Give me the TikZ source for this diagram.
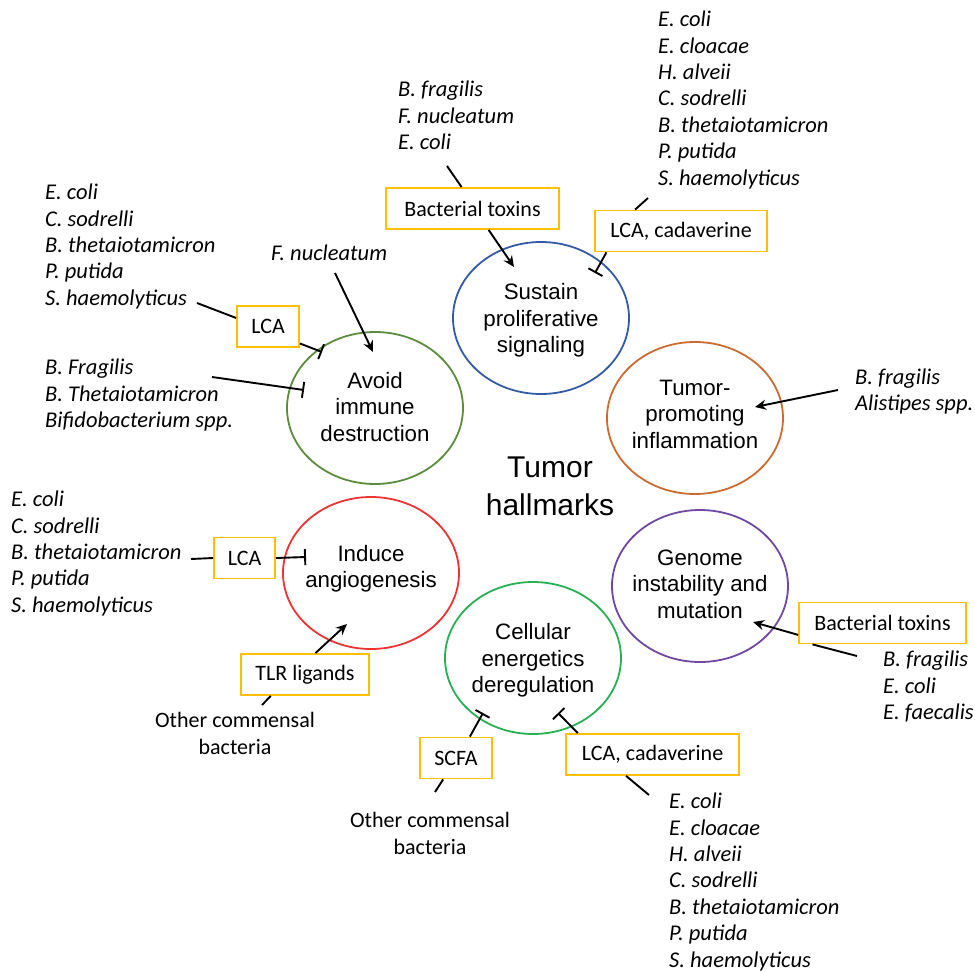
\documentclass[tikz,border=0pt]{standalone}
\usepackage{fontspec}
\setmainfont{Carlito}
\newfontfamily\arialfont{Liberation Sans}
\usetikzlibrary{shapes.geometric,arrows.meta}

\definecolor{boxgold}{RGB}{255,192,0}
\definecolor{sustainblue}{RGB}{52,92,166}
\definecolor{avoidgreen}{RGB}{92,140,62}
\definecolor{inflamorange}{RGB}{202,108,50}
\definecolor{angiored}{RGB}{236,52,52}
\definecolor{genomepurple}{RGB}{112,72,162}
\definecolor{energygreen}{RGB}{40,176,84}

\tikzset{
  hallmark/.style={ellipse, draw=#1, line width=1.8pt, minimum width=176pt, minimum height=152pt, inner sep=0pt},
  hallmarktext/.style={align=center, font=\arialfont\fontsize{22.3}{26.5}\selectfont},
  agent/.style={draw=boxgold, line width=1.8pt, minimum height=41pt, inner xsep=6pt, font=\fontsize{22}{25}\selectfont},
  species/.style={anchor=north west, align=left, inner sep=0pt, font=\itshape\fontsize{22.5}{26.4}\selectfont},
  commensal/.style={align=center, inner sep=0pt, font=\fontsize{22}{27}\selectfont},
  link/.style={line width=1.9pt},
  act/.style={link, -{Stealth[length=11pt,width=10pt]}},
  inh/.style={link, -{Bar[width=16pt]}},
}

\begin{document}
\begin{tikzpicture}[x=1pt,y=-1pt]
    \useasboundingbox (0,0) rectangle (975,972);

    % the six hallmark circles
    \node[hallmark=sustainblue] (sps) at (541,318) {};
    \node[hallmark=avoidgreen] (aid) at (375,408) {};
    \node[hallmark=inflamorange] (tpi) at (695,418) {};
    \node[hallmark=angiored] (ia) at (371,573) {};
    \node[hallmark=genomepurple] (gim) at (700,586) {};
    \node[hallmark=energygreen] (ced) at (533,658) {};

    \node[hallmarktext] (sps-t) at (541,320.5) {Sustain\\proliferative\\signaling};
    \node[hallmarktext] (aid-t) at (375,407) {Avoid\\immune\\destruction};
    \node[hallmarktext] (tpi-t) at (695,414) {Tumor-\\promoting\\inflammation};
    \node[hallmarktext] (ia-t) at (371,568.5) {Induce\\angiogenesis};
    \node[hallmarktext] (gim-t) at (700,584) {Genome\\instability and\\mutation};
    \node[hallmarktext] (ced-t) at (533,660.5) {Cellular\\energetics\\deregulation};

    \node[align=center, font=\arialfont\fontsize{30}{38}\selectfont] (th) at (550,486) {Tumor\\hallmarks};

    % bacterial products
    \node[agent, minimum width=173pt] (btA) at (472.5,208.5) {Bacterial toxins};
    \node[agent, minimum width=172pt] (lcA) at (681,231) {LCA, cadaverine};
    \node[agent, minimum width=62pt] (laA) at (268,326.5) {LCA};
    \node[agent, minimum width=61pt] (laB) at (244.5,558) {LCA};
    \node[agent, minimum width=128pt] (tlr) at (305,674.5) {TLR ligands};
    \node[agent, minimum width=72pt] (scfa) at (456,758) {SCFA};
    \node[agent, minimum width=173pt] (lcB) at (652.5,754.5) {LCA, cadaverine};
    \node[agent, minimum width=167pt] (btB) at (882.5,623) {Bacterial toxins};

    % bacteria
    \node[species] (tm-list) at (398,80.8) {B. fragilis\\F. nucleatum\\E. coli};
    \node[species] (tr-list) at (658,10.8) {E. coli\\E. cloacae\\H. alveii\\C. sodrelli\\B. thetaiotamicron\\P. putida\\S. haemolyticus};
    \node[species] (tl-list) at (45,183.8) {E. coli\\C. sodrelli\\B. thetaiotamicron\\P. putida\\S. haemolyticus};
    \node[species, anchor=west] (fn) at (271,253) {F. nucleatum};
    \node[species] (bl-list) at (45,358.8) {B. Fragilis\\B. Thetaiotamicron\\Bifidobacterium spp.};
    \node[species] (inf-list) at (855,368.2) {B. fragilis\\Alistipes spp.};
    \node[species] (ml-list) at (11,490.8) {E. coli\\C. sodrelli\\B. thetaiotamicron\\P. putida\\S. haemolyticus};
    \node[species] (gr-list) at (883,650.8) {B. fragilis\\E. coli\\E. faecalis};
    \node[species] (br-list) at (669,792.8) {E. coli\\E. cloacae\\H. alveii\\C. sodrelli\\B. thetaiotamicron\\P. putida\\S. haemolyticus};
    \node[commensal] (oc1) at (235,733.5) {Other commensal\\bacteria};
    \node[commensal] (oc2) at (430,833.5) {Other commensal\\bacteria};

    % free ends of the connectors
    \coordinate (tm-end) at (447,166);
    \coordinate (tr-end) at (648,198);
    \coordinate (tl-end) at (197,303);
    \coordinate (fn-end) at (335,273);
    \coordinate (bl-end) at (212,377);
    \coordinate (inf-end) at (838,390);
    \coordinate (ml-end) at (191,559);
    \coordinate (oc1-end) at (262,705);
    \coordinate (oc2-end) at (435,792);
    \coordinate (br-end) at (649,795);
    \coordinate (gr-end) at (857,656);

    \coordinate (sps-act) at (514,267);
    \coordinate (sps-inh) at (595,273);
    \coordinate (aid-act) at (373,352);
    \coordinate (aid-inh1) at (322,352);
    \coordinate (aid-inh2) at (304,390);
    \coordinate (tpi-act) at (755,407);
    \coordinate (ia-inh) at (306,557);
    \coordinate (ia-act) at (347,624);
    \coordinate (ced-inh1) at (483,713);
    \coordinate (ced-inh2) at (558,713);
    \coordinate (gim-act) at (753,622);

    % connectors
    \draw[link] (tm-end) -- (btA.117);
    \draw[act] (btA.307) -- (sps-act);
    \draw[link] (tr-end) -- (lcA.155);
    \draw[inh] (lcA.196) -- (sps-inh);

    \draw[link] (tl-end) -- (laA.165);
    \draw[inh] (laA.332) -- (aid-inh1);
    \draw[act] (fn-end) -- (aid-act);
    \draw[inh] (bl-end) -- (aid-inh2);

    \draw[act] (inf-end) -- (tpi-act);

    \draw[link] (ml-end) -- (laB.west);
    \draw[inh] (laB.east) -- (ia-inh);
    \draw[act] (tlr.64) -- (ia-act);
    \draw[link] (oc1-end) -- (tlr.212);

    \draw[inh] (scfa.57) -- (ced-inh1);
    \draw[link] (oc2-end) -- (scfa.239);
    \draw[inh] (lcB.164) -- (ced-inh2);
    \draw[link] (br-end) -- (lcB.219);

    \draw[act] (btB.188) -- (gim-act);
    \draw[link] (gr-end) -- (btB.197);
\end{tikzpicture}
\end{document}
